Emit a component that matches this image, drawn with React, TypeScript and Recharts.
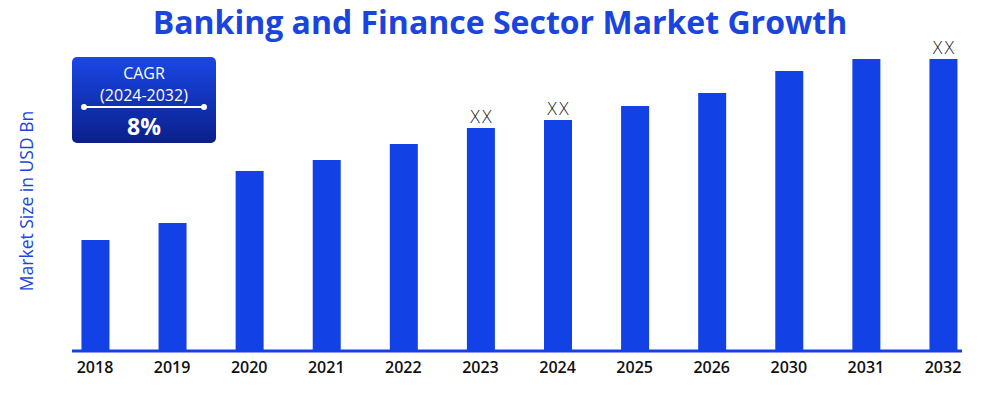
import React from 'react';
import { BarChart, Bar, XAxis, YAxis, LabelList } from 'recharts';

const years = ['2018', '2019', '2020', '2021', '2022', '2023', '2024', '2025', '2026', '2030', '2031', '2032'];
const marketSize = [111, 128, 180, 191, 207, 223, 231, 245, 258, 280, 292, 292];
const barLabels = ['', '', '', '', '', 'XX', 'XX', '', '', '', '', 'XX'];

const data = years.map((year, i) => ({ year, value: marketSize[i], label: barLabels[i] }));

const BLUE = '#1242e5';
const FONT = '"Open Sans", Roboto, sans-serif';

const renderXX = (props: any) => {
  const { x, y, width, value } = props;
  if (!value) return null;
  return (
    <text
      x={x + width / 2}
      y={y - 5}
      textAnchor="middle"
      fontFamily="'DejaVu Sans', sans-serif"
      fontWeight={200}
      fontSize={17}
      fill="#222"
    >
      {value}
    </text>
  );
};

export default function App() {
  return (
    <div style={{ position: 'absolute', left: 0, top: 0, width: 1000, height: 398, background: '#fff', fontFamily: FONT }}>
      <div
        style={{
          position: 'absolute', left: 0, top: 0, width: 1000, textAlign: 'center',
          color: '#1a44e0', fontWeight: 700, fontSize: 32, fontFamily: FONT,
        }}
      >
        Banking and Finance Sector Market Growth
      </div>

      <BarChart width={1000} height={398} data={data} margin={{ top: 51, right: 38, bottom: 17, left: 72 }}>
        <YAxis hide domain={[0, 300]} />
        <XAxis
          dataKey="year"
          scale="point"
          padding={{ left: 23, right: 19 }}
          axisLine={{ stroke: BLUE, strokeWidth: 3 }}
          tickLine={false}
          tick={{ fill: '#111', fontSize: 16, fontWeight: 600, fontFamily: FONT }}
          tickMargin={5}
          interval={0}
        />
        <Bar dataKey="value" fill={BLUE} barSize={28} isAnimationActive={false}>
          <LabelList dataKey="label" content={renderXX} />
        </Bar>
      </BarChart>

      <div
        style={{
          position: 'absolute', left: 26, top: 201, transform: 'translate(-50%, -50%) rotate(-90deg)',
          transformOrigin: 'center', whiteSpace: 'nowrap', color: '#1a44e0', fontSize: 17.5, fontFamily: FONT,
        }}
      >
        Market Size in USD Bn
      </div>

      <div
        style={{
          position: 'absolute', left: 72, top: 57, width: 144, height: 86, borderRadius: 5,
          background: 'linear-gradient(to bottom, #1a47e6, #0a1f8a)', color: '#fff', textAlign: 'center',
          fontFamily: FONT,
        }}
      >
        <div style={{ fontSize: 16, lineHeight: '22px', marginTop: 5 }}>CAGR</div>
        <div style={{ fontSize: 16, lineHeight: '22px' }}>(2024-2032)</div>
        <div style={{ position: 'relative', height: 6 }}>
          <div style={{ position: 'absolute', left: 11, right: 11, top: 0, height: 1.5, background: '#fff' }} />
          <div style={{ position: 'absolute', left: 9, top: -2, width: 6, height: 6, borderRadius: 3, background: '#fff' }} />
          <div style={{ position: 'absolute', right: 9, top: -2, width: 6, height: 6, borderRadius: 3, background: '#fff' }} />
        </div>
        <div style={{ fontSize: 23, fontWeight: 700, lineHeight: '28px' }}>8%</div>
      </div>
    </div>
  );
}
